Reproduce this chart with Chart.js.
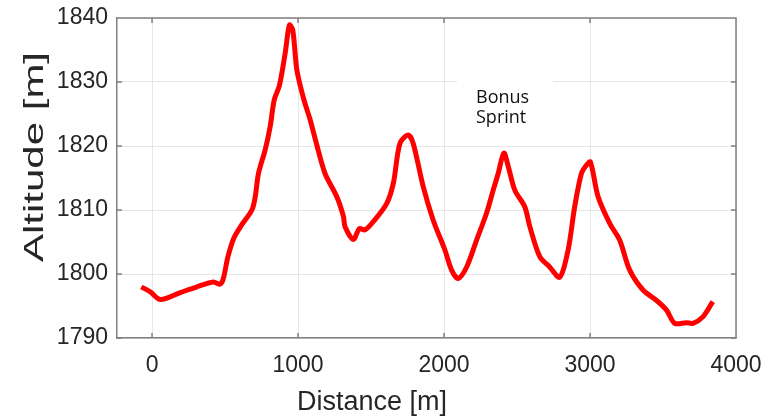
<!DOCTYPE html>
<html>
<head>
<meta charset="utf-8">
<script src="https://cdn.jsdelivr.net/npm/chart.js@4/dist/chart.umd.min.js"></script>
<style>
  html, body { margin: 0; padding: 0; background: #fff; }
  #wrap { width: 769px; height: 417px; }
</style>
</head>
<body>
<div id="wrap"><canvas id="altChart" width="769" height="417"></canvas></div>
<script>
// course profile
const distance = [-73, -12, 57, 194, 308, 421, 462, 486, 520, 560, 615, 684, 707, 729, 775, 809, 837, 873, 912, 941,
    964, 992, 1037, 1083, 1128, 1185, 1265, 1311, 1322, 1379, 1420, 1459, 1516, 1607, 1653, 1698, 1755, 1789, 1858, 1926,
    2006, 2052, 2097, 2155, 2223, 2291, 2337, 2371, 2410, 2440, 2485, 2553, 2588, 2656, 2724, 2793, 2850, 2895, 2941, 2975,
    3003, 3055, 3135, 3203, 3272, 3363, 3454, 3523, 3580, 3659, 3705, 3773, 3841];
const altitude = [1798.0, 1797.2, 1796.0, 1797.1, 1798.0, 1798.75, 1798.4, 1799.1, 1802.7, 1805.6, 1807.7, 1810.0, 1812.1, 1815.7, 1819.4, 1823.0, 1827.2, 1829.5, 1834.5, 1838.9,
    1838.1, 1831.9, 1827.5, 1824.1, 1820.2, 1815.7, 1812.1, 1809.0, 1807.4, 1805.4, 1807.1, 1806.9, 1808.2, 1811.0, 1814.2, 1820.4, 1821.7, 1820.4, 1813.6, 1808.4,
    1803.75, 1800.6, 1799.3, 1801.1, 1805.3, 1809.5, 1813.1, 1815.7, 1818.9, 1816.8, 1813.1, 1810.5, 1807.4, 1802.7, 1801.1, 1799.5, 1803.75, 1810.5, 1815.7, 1817.0,
    1817.5, 1812.1, 1807.9, 1805.3, 1800.6, 1797.5, 1795.9, 1794.4, 1792.3, 1792.4, 1792.3, 1793.3, 1795.7];
const xTicks = [0, 1000, 2000, 3000, 4000];
const yTicks = [1790, 1800, 1810, 1820, 1830, 1840];
const xTitle = 'Distance [m]';
const yTitle = 'Altitude [m]';
const noteLines = ['Bonus', 'Sprint'];

const textColor = '#262626';
const frameColor = '#808080';

const points = distance.map((d, i) => ({ x: d, y: altitude[i] }));

const extras = {
    id: 'extras',
    beforeDatasetsDraw(chart) {
        const ctx = chart.ctx;
        ctx.save();
        // white box behind the note hides the grid
        ctx.fillStyle = '#fff';
        ctx.fillRect(457, 76, 96, 58);
        ctx.fillStyle = '#111';
        ctx.font = '18px "Open Sans"';
        ctx.textAlign = 'left';
        ctx.textBaseline = 'alphabetic';
        ctx.fillText(noteLines[0], 476, 103);
        ctx.fillText(noteLines[1], 476, 123);
        ctx.restore();
    },
    afterDraw(chart) {
        const ctx = chart.ctx;
        const a = chart.chartArea;
        const xs = chart.scales.x, ys = chart.scales.y;
        ctx.save();
        ctx.strokeStyle = frameColor;
        ctx.lineWidth = 1.5;
        ctx.beginPath();
        ctx.moveTo(a.left, a.top); ctx.lineTo(a.right, a.top); ctx.lineTo(a.right, a.bottom);
        // inner ticks on all four sides
        xs.ticks.forEach(t => {
            const px = xs.getPixelForValue(t.value);
            ctx.moveTo(px, a.bottom); ctx.lineTo(px, a.bottom - 5);
            ctx.moveTo(px, a.top); ctx.lineTo(px, a.top + 5);
        });
        ys.ticks.forEach(t => {
            const py = ys.getPixelForValue(t.value);
            ctx.moveTo(a.left, py); ctx.lineTo(a.left + 5, py);
            ctx.moveTo(a.right, py); ctx.lineTo(a.right - 5, py);
        });
        ctx.stroke();

        ctx.fillStyle = textColor;
        ctx.font = '27px "Liberation Sans"';
        ctx.textAlign = 'center';
        ctx.textBaseline = 'alphabetic';
        ctx.fillText(xTitle, 372, 410);

        ctx.translate(43, 157);
        ctx.rotate(-Math.PI / 2);
        ctx.scale(1.5, 1);
        ctx.font = '28px "Liberation Sans"';
        ctx.fillText(yTitle, 0, 0);
        ctx.restore();
    }
};

new Chart(document.getElementById('altChart').getContext('2d'), {
    type: 'line',
    data: {
        datasets: [{
            data: points,
            borderColor: '#ff0000',
            borderWidth: 5,
            pointRadius: 0,
            tension: 0.3,
            fill: false
        }]
    },
    options: {
        responsive: false,
        animation: false,
        layout: { padding: { top: 18, right: 33, left: 0, bottom: 0 } },
        plugins: { legend: { display: false }, tooltip: { enabled: false } },
        scales: {
            x: {
                type: 'linear',
                min: -240,
                max: 4000,
                afterBuildTicks: s => { s.ticks = xTicks.map(v => ({ value: v })); },
                ticks: {
                    color: textColor,
                    font: { family: 'Liberation Sans', size: 23 },
                    padding: 14,
                    maxRotation: 0,
                    callback: v => String(v)
                },
                grid: { color: '#e6e6e6', drawTicks: false },
                border: { color: frameColor, width: 1.5 },
                afterFit: s => { s.height = 79; s.paddingLeft = 0; s.paddingRight = 0; }
            },
            y: {
                min: 1790,
                max: 1840,
                afterBuildTicks: s => { s.ticks = yTicks.map(v => ({ value: v })); },
                ticks: {
                    color: textColor,
                    font: { family: 'Liberation Sans', size: 23 },
                    padding: 9,
                    callback: v => String(v)
                },
                grid: { color: '#e6e6e6', drawTicks: false },
                border: { color: frameColor, width: 1.5 },
                afterFit: s => { s.width = 117; s.paddingTop = 0; s.paddingBottom = 0; }
            }
        }
    },
    plugins: [extras]
});
</script>
</body>
</html>
